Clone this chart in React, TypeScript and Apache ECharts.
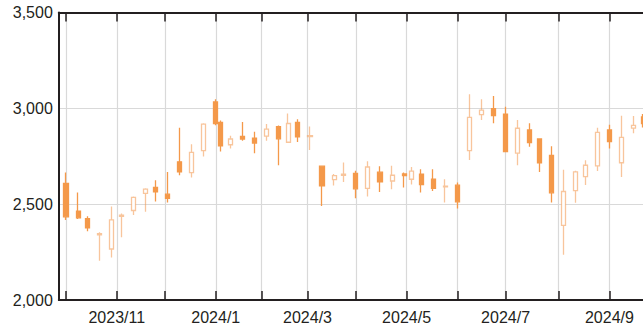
import React, { useEffect, useRef } from "react";
import * as echarts from "echarts";

// Weekly candles (first trading day of each week)
const weekDates = [
  "2023-10-02", "2023-10-10", "2023-10-16", "2023-10-23", "2023-10-30", "2023-11-06", "2023-11-13",
  "2023-11-20", "2023-11-27", "2023-12-04", "2023-12-11", "2023-12-18", "2023-12-25", "2024-01-04",
  "2024-01-09", "2024-01-15", "2024-01-22", "2024-01-29", "2024-02-05", "2024-02-13", "2024-02-19",
  "2024-02-26", "2024-03-04", "2024-03-11", "2024-03-18", "2024-03-25", "2024-04-01", "2024-04-08",
  "2024-04-15", "2024-04-22", "2024-04-30", "2024-05-07", "2024-05-13", "2024-05-20", "2024-05-27",
  "2024-06-03", "2024-06-10", "2024-06-17", "2024-06-24", "2024-07-01", "2024-07-08", "2024-07-16",
  "2024-07-22", "2024-07-29", "2024-08-05", "2024-08-13", "2024-08-19", "2024-08-26", "2024-09-02",
  "2024-09-09", "2024-09-17", "2024-09-24",
];
const openValues = [
  2609, 2463, 2425, 2340, 2266, 2437, 2467, 2556, 2587, 2552, 2721, 2665, 2779, 3033,
  2927, 2810, 2854, 2845, 2855, 2905, 2823, 2926, 2852, 2698, 2628, 2651, 2661, 2582,
  2667, 2621, 2658, 2630, 2656, 2630, 2590, 2599, 2779, 2967, 2998, 2970, 2766, 2887,
  2840, 2755, 2389, 2571, 2644, 2700, 2887, 2716, 2897, 2955,
];
const closeValues = [
  2434, 2429, 2377, 2346, 2418, 2443, 2535, 2578, 2564, 2531, 2668, 2770, 2918, 2920,
  2804, 2840, 2840, 2819, 2892, 2841, 2921, 2851, 2858, 2596, 2649, 2656, 2580, 2694,
  2616, 2651, 2649, 2672, 2602, 2582, 2594, 2512, 2953, 2991, 2962, 2774, 2896, 2821,
  2716, 2559, 2566, 2668, 2703, 2875, 2826, 2849, 2911, 2920,
];
const lowValues = [
  2418, 2422, 2359, 2205, 2222, 2327, 2443, 2460, 2514, 2509, 2651, 2639, 2749, 2912,
  2775, 2791, 2831, 2766, 2831, 2703, 2823, 2825, 2783, 2491, 2597, 2616, 2531, 2540,
  2564, 2578, 2587, 2602, 2561, 2569, 2509, 2478, 2731, 2939, 2922, 2774, 2703, 2800,
  2668, 2509, 2236, 2507, 2600, 2673, 2790, 2642, 2870, 2900,
];
const highValues = [
  2665, 2561, 2437, 2354, 2488, 2451, 2540, 2583, 2625, 2668, 2899, 2812, 2922, 3047,
  2937, 2857, 2929, 2878, 2918, 2910, 2973, 2943, 2905, 2698, 2658, 2718, 2675, 2724,
  2698, 2700, 2665, 2694, 2682, 2682, 2630, 2613, 3073, 3047, 3064, 3008, 2939, 2922,
  2840, 2802, 2680, 2675, 2729, 2899, 2914, 2961, 2960, 2970,
];

// Tokyo market holidays in the period (weekdays with no trading)
const marketHolidays = [
  "2023-10-09", "2023-11-03", "2023-11-23", "2024-01-01", "2024-01-02", "2024-01-03",
  "2024-01-08", "2024-02-12", "2024-02-23", "2024-03-20", "2024-04-29", "2024-05-03",
  "2024-05-06", "2024-07-15", "2024-08-12", "2024-09-16", "2024-09-23",
];
const calendarStart = "2023-09-27";
const calendarEnd = "2024-09-30";
const yTicks = [2000, 2500, 3000, 3500];

function buildTradingDays(): string[] {
  const out: string[] = [];
  const hol = new Set(marketHolidays);
  const d = new Date(calendarStart + "T00:00:00Z");
  const end = new Date(calendarEnd + "T00:00:00Z");
  while (d.getTime() <= end.getTime()) {
    const wd = d.getUTCDay();
    const s = d.toISOString().slice(0, 10);
    if (wd !== 0 && wd !== 6 && !hol.has(s)) out.push(s);
    d.setUTCDate(d.getUTCDate() + 1);
  }
  return out;
}

const FILL = "#F4994A";
const LIGHT = "rgba(243,150,74,0.55)";
const DARK = "#231f20";
const FONT = "'Liberation Sans', Arial, Helvetica, sans-serif";

export default function App() {
  const ref = useRef<HTMLDivElement>(null);
  useEffect(() => {
    document.body.style.margin = "0";
    if (!ref.current) return;
    const chart = echarts.init(ref.current, null, { renderer: "svg" });
    const days = buildTradingDays();
    const month = (s: string) => s.slice(0, 7);
    const isMonthStart = (i: number) => i > 0 && month(days[i]) !== month(days[i - 1]);
    const isLabel = (i: number) => isMonthStart(i) && parseInt(days[i].slice(5, 7), 10) % 2 === 1;
    const idx = new Map(days.map((d, i) => [d, i]));
    const data = weekDates.map((d, i) => [idx.get(d), openValues[i], closeValues[i], lowValues[i], highValues[i]]);

    const pxPerDay = 2.415;
    const left = 58.8;
    const totalW = 700;
    const gridW = (days.length - 1) * pxPerDay;

    chart.setOption({
      animation: false,
      grid: { left, right: totalW - left - gridW, top: 12.5, bottom: 325 - 301 },
      xAxis: [
        {
          type: "category",
          data: days,
          boundaryGap: false,
          position: "bottom",
          axisLine: { onZero: false, lineStyle: { color: DARK, width: 2 } },
          axisTick: { inside: true, length: 9, interval: (i: number) => isMonthStart(i), lineStyle: { color: DARK, width: 1.5 } },
          splitLine: { show: true, interval: (i: number) => isMonthStart(i), lineStyle: { color: "#d9d9d9", width: 1.2 } },
          axisLabel: {
            interval: (i: number) => isLabel(i),
            formatter: (v: string) => `${v.slice(0, 4)}/${parseInt(v.slice(5, 7), 10)}`,
            color: DARK,
            fontSize: 16,
            fontFamily: FONT,
            margin: 9,
          },
        },
        {
          type: "category",
          data: days,
          boundaryGap: false,
          position: "top",
          axisLine: { onZero: false, lineStyle: { color: DARK, width: 2 } },
          axisTick: { inside: true, length: 9, interval: (i: number) => isMonthStart(i), lineStyle: { color: DARK, width: 1.5 } },
          splitLine: { show: false },
          axisLabel: { show: false },
        },
      ],
      yAxis: {
        type: "value",
        min: yTicks[0],
        max: yTicks[yTicks.length - 1],
        interval: 500,
        axisLine: { show: true, lineStyle: { color: DARK, width: 2 } },
        axisTick: { show: false },
        splitLine: { show: true, lineStyle: { color: "#d9d9d9", width: 1.2 } },
        axisLabel: {
          color: DARK,
          fontSize: 16,
          fontFamily: FONT,
          margin: 6,
          formatter: (v: number) => v.toLocaleString("en-US"),
        },
      },
      series: [
        {
          type: "candlestick",
          xAxisIndex: 0,
          yAxisIndex: 0,
          data,
          encode: { x: 0, y: [1, 2, 3, 4] },
          barWidth: 4.6,
          itemStyle: {
            color: "#ffffff",
            color0: FILL,
            borderColor: LIGHT,
            borderColor0: FILL,
            borderWidth: 1.3,
          },
        },
      ],
    });
    return () => chart.dispose();
  }, []);
  return (
    <div style={{ width: 643, height: 325, overflow: "hidden", position: "relative" }}>
      <div ref={ref} style={{ width: 700, height: 325 }} />
    </div>
  );
}
